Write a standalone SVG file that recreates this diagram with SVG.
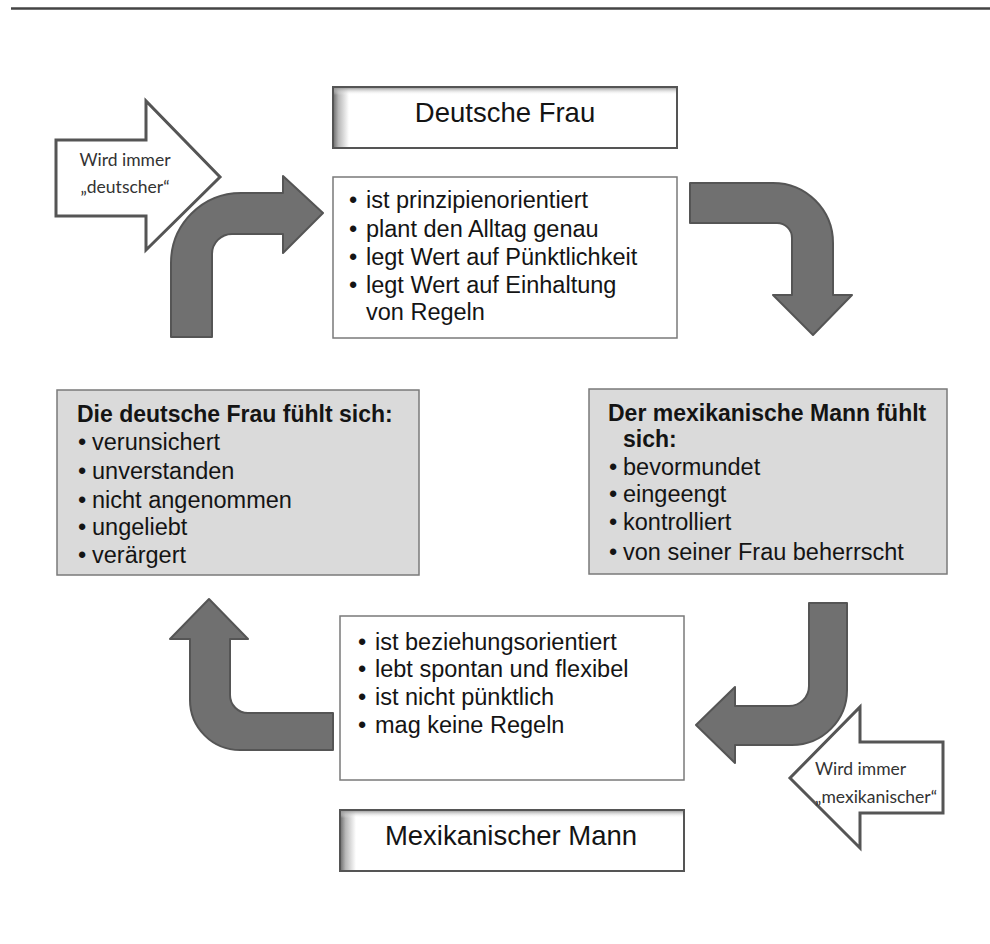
<svg xmlns="http://www.w3.org/2000/svg" width="990" height="944" viewBox="0 0 990 944">
<defs>
<linearGradient id="shL" x1="0" y1="0" x2="1" y2="0"><stop offset="0" stop-color="#6a6a6a"/><stop offset="0.35" stop-color="#b8b8b8"/><stop offset="1" stop-color="#ffffff"/></linearGradient>
<linearGradient id="shT" x1="0" y1="0" x2="0" y2="1"><stop offset="0" stop-color="#8a8a8a"/><stop offset="1" stop-color="#ffffff" stop-opacity="0"/></linearGradient>
</defs>
<style>
.t{font-family:"Liberation Sans",Arial,sans-serif;font-size:23.5px;fill:#141414}
.b{font-family:"Liberation Sans",Arial,sans-serif;font-size:23px;font-weight:bold;fill:#141414}
.h{font-family:"Liberation Sans",Arial,sans-serif;font-size:27.5px;fill:#141414}
.c{font-family:Lato,"Open Sans",sans-serif;font-size:17.5px;fill:#333}
.wbox{fill:#fff;stroke:#7a7a7a;stroke-width:1.5}
.gbox{fill:#dadada;stroke:#7a7a7a;stroke-width:1.5}
.ga{fill:#707070;stroke:#555;stroke-width:2;stroke-linejoin:round}
.wa{fill:#fff;stroke:#555;stroke-width:3;stroke-linejoin:miter}
</style>
<rect width="990" height="944" fill="#fff"/>
<line x1="11" y1="8.5" x2="990" y2="8.5" stroke="#444" stroke-width="2.5"/>

<g id="deutsche-frau-title">
<rect x="333" y="87" width="344" height="61" fill="#fff"/>
<rect x="333" y="87" width="16" height="61" fill="url(#shL)"/>
<rect x="333" y="87" width="344" height="8" fill="url(#shT)"/>
<rect x="333" y="87" width="344" height="61" fill="none" stroke="#555" stroke-width="2"/>
<text class="h" x="505" y="122" text-anchor="middle">Deutsche Frau</text>
</g>

<g id="deutsche-frau-traits">
<rect class="wbox" x="333" y="177" width="344" height="161"/>
<text class="t" x="349" y="208">•</text><text class="t" x="366" y="208">ist prinzipienorientiert</text>
<text class="t" x="349" y="237">•</text><text class="t" x="366" y="237">plant den Alltag genau</text>
<text class="t" x="349" y="265">•</text><text class="t" x="366" y="265">legt Wert auf Pünktlichkeit</text>
<text class="t" x="349" y="293">•</text><text class="t" x="366" y="293">legt Wert auf Einhaltung</text>
<text class="t" x="366" y="320">von Regeln</text>
</g>

<g id="frau-fuehlt">
<rect class="gbox" x="57" y="390" width="362" height="185"/>
<text class="b" x="77" y="422">Die deutsche Frau fühlt sich:</text>
<text class="t" x="78" y="450">•</text><text class="t" x="92" y="450">verunsichert</text>
<text class="t" x="78" y="479">•</text><text class="t" x="92" y="479">unverstanden</text>
<text class="t" x="78" y="508">•</text><text class="t" x="92" y="508">nicht angenommen</text>
<text class="t" x="78" y="535">•</text><text class="t" x="92" y="535">ungeliebt</text>
<text class="t" x="78" y="563">•</text><text class="t" x="92" y="563">verärgert</text>
</g>

<g id="mann-fuehlt">
<rect class="gbox" x="589" y="389" width="358" height="185"/>
<text class="b" x="608" y="421">Der mexikanische Mann fühlt</text>
<text class="b" x="623" y="447">sich:</text>
<text class="t" x="609" y="475">•</text><text class="t" x="623" y="475">bevormundet</text>
<text class="t" x="609" y="502">•</text><text class="t" x="623" y="502">eingeengt</text>
<text class="t" x="609" y="530">•</text><text class="t" x="623" y="530">kontrolliert</text>
<text class="t" x="609" y="560">•</text><text class="t" x="623" y="560">von seiner Frau beherrscht</text>
</g>

<g id="mann-traits">
<rect class="wbox" x="340" y="616" width="344" height="164"/>
<text class="t" x="358" y="650">•</text><text class="t" x="375" y="650">ist beziehungsorientiert</text>
<text class="t" x="358" y="677">•</text><text class="t" x="375" y="677">lebt spontan und flexibel</text>
<text class="t" x="358" y="705">•</text><text class="t" x="375" y="705">ist nicht pünktlich</text>
<text class="t" x="358" y="733">•</text><text class="t" x="375" y="733">mag keine Regeln</text>
</g>

<g id="mexikanischer-mann-title">
<rect x="340" y="810" width="344" height="61" fill="#fff"/>
<rect x="340" y="810" width="16" height="61" fill="url(#shL)"/>
<rect x="340" y="810" width="344" height="8" fill="url(#shT)"/>
<rect x="340" y="810" width="344" height="61" fill="none" stroke="#555" stroke-width="2"/>
<text class="h" x="511" y="845" text-anchor="middle">Mexikanischer Mann</text>
</g>

<g id="wird-deutscher">
<path class="wa" d="M56,140 L146,140 L146,101 L220,177 L146,250 L146,216 L56,216 Z"/>
<text class="c" x="125" y="166" text-anchor="middle">Wird immer</text>
<text class="c" x="125" y="193" text-anchor="middle">„deutscher“</text>
</g>

<g id="wird-mexikanischer">
<path class="wa" d="M943,742 L860,742 L860,707 L790,778 L860,848 L860,813 L943,813 Z"/>
<text class="c" x="815" y="775">Wird immer</text>
<text class="c" x="815" y="803">„mexikanischer“</text>
</g>

<g id="connectors">
<path class="ga" d="M171,337 L171,263 A70,70 0 0 1 241,193 L283,193 L283,176 L323,213 L283,253 L283,234 L232,234 A20,20 0 0 0 212,254 L212,337 Z"/>
<path class="ga" d="M690,183 L773,183 A60,60 0 0 1 833,243 L833,295 L852,295 L813,335 L773,295 L792,295 L792,238 A15,15 0 0 0 777,223 L690,223 Z"/>
<path class="ga" d="M809,603 L847,603 L847,690 A55,55 0 0 1 792,745 L735,745 L735,763 L696,725 L735,687 L735,706 L789,706 A20,20 0 0 0 809,686 Z"/>
<path class="ga" d="M333,713 L333,750 L240,750 A50,50 0 0 1 190,700 L190,639 L170,639 L209,599 L248,639 L230,639 L230,695 A18,18 0 0 0 248,713 Z"/>
</g>
</svg>
